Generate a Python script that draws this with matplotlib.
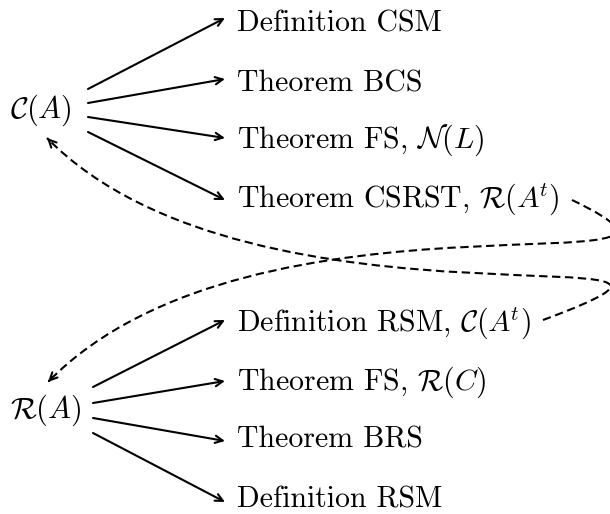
import matplotlib
matplotlib.use("Agg")
import matplotlib.pyplot as plt
from matplotlib.patches import FancyArrowPatch, PathPatch
from matplotlib.path import Path
import numpy as np

plt.rcParams['mathtext.fontset'] = 'cm'
plt.rcParams['axes.unicode_minus'] = False

# ---- content ----
source_labels = [r"$\mathcal{C}(A)$", r"$\mathcal{R}(A)$"]
top_labels = ["Definition CSM",
              "Theorem BCS",
              r"Theorem FS, $\mathcal{N}(L)$",
              r"Theorem CSRST, $\mathcal{R}(A^{\!t})$"]
bottom_labels = [r"Definition RSM, $\mathcal{C}(A^{\!t})$",
                 r"Theorem FS, $\mathcal{R}(C)$",
                 "Theorem BRS",
                 "Definition RSM"]

# ---- layout (pixel coordinates) ----
source_pos = [(10, 118), (10, 418)]
label_x = 237
top_baselines = [32, 91, 148, 208]
bottom_baselines = [332, 390, 447, 507]
top_arrow_starts = [(88, 89), (88, 103), (88, 117), (88, 132)]
top_arrow_ends = [(225, 18), (225, 79), (225, 138), (225, 200)]
bot_arrow_starts = [(93, 387), (93, 403), (93, 418), (93, 433)]
bot_arrow_ends = [(225, 320), (225, 381), (225, 441), (225, 502)]
curve_A = [(572, 200), (770, 295), (255, 170), (48, 382)]
curve_B = [(543, 320), (800, 225), (255, 350), (47, 138)]

FS = 21.5
LW = 1.5

fig = plt.figure(figsize=(6.10, 5.14), dpi=100)
ax = fig.add_axes([0, 0, 1, 1])
ax.set_xlim(0, 610)
ax.set_ylim(514, 0)
ax.axis('off')

for lab, (x, y) in zip(source_labels, source_pos):
    ax.text(x, y, lab, fontsize=FS + 0.5, ha='left', va='baseline', family='cmr10')
for lab, y in zip(top_labels, top_baselines):
    ax.text(label_x, y, lab, fontsize=FS, ha='left', va='baseline', family='cmr10')
for lab, y in zip(bottom_labels, bottom_baselines):
    ax.text(label_x, y, lab, fontsize=FS, ha='left', va='baseline', family='cmr10')

astyle = "->,head_length=0.45,head_width=0.22"
for s, e in list(zip(top_arrow_starts, top_arrow_ends)) + list(zip(bot_arrow_starts, bot_arrow_ends)):
    ax.add_patch(FancyArrowPatch(s, e, arrowstyle=astyle, mutation_scale=12,
                                 lw=LW, color='black', shrinkA=0, shrinkB=0))

for pts in (curve_A, curve_B):
    path = Path(pts, [Path.MOVETO, Path.CURVE4, Path.CURVE4, Path.CURVE4])
    ax.add_patch(PathPatch(path, fill=False, lw=LW, ec='black',
                           linestyle=(0, (4, 2.2)), clip_on=True))
    p2 = np.array(pts[2], float); p3 = np.array(pts[3], float)
    d = (p3 - p2) / np.linalg.norm(p3 - p2)
    ax.add_patch(FancyArrowPatch(tuple(p3 - 2 * d), tuple(p3), arrowstyle=astyle,
                                 mutation_scale=12, lw=LW, color='black',
                                 shrinkA=0, shrinkB=0))

fig.savefig("out.png", dpi=100)
